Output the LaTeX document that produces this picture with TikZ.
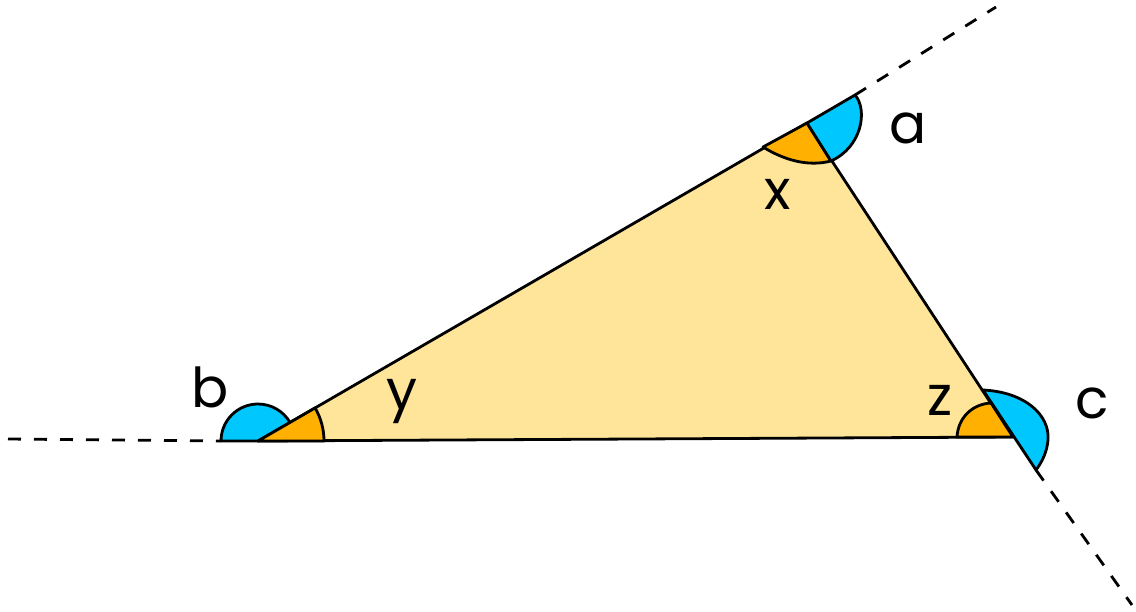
\documentclass[tikz,border=0pt]{standalone}
\usepackage{fontspec}
\setmainfont{Poppins}
\begin{document}
\begin{tikzpicture}[x=1pt,y=-1pt,
  edge/.style={line width=2.8pt,line join=round,line cap=round},
  wedgeorange/.style={fill=orangeW,draw=black,line width=2.8pt,line join=round},
  wedgeblue/.style={fill=blueW,draw=black,line width=2.8pt,line join=round},
  ext/.style={line width=2.8pt,dash pattern=on 13pt off 13pt},
  lab/.style={inner sep=0pt,font=\fontsize{55}{60}\selectfont}]
\definecolor{triY}{RGB}{255,229,153}
\definecolor{orangeW}{RGB}{255,176,0}
\definecolor{blueW}{RGB}{0,200,255}
\useasboundingbox[fill=white] (0,0) rectangle (1136,611);
% vertices
\coordinate (A) at (807,123);
\coordinate (B) at (258,441);
\coordinate (C) at (1013,437);
% triangle
\fill[triY] (A) -- (B) -- (C) -- cycle;
\draw[edge] (A) -- (B) -- (C) -- cycle;
% arc end points
\coordinate (aOut) at (855,95);
\coordinate (aIn) at (831,161);
\coordinate (aLeft) at (763,147);
\coordinate (cTop) at (983,390);
\coordinate (cBot) at (1036,470);
\coordinate (cRight) at (1048,440);
\coordinate (cMid) at (991,403);
\coordinate (cLeft) at (957,437);
\coordinate (bLeft) at (221,441);
% far ends of dashed lines
\coordinate (aFar) at (996,7);
\coordinate (bFar) at (8,439);
\coordinate (cFar) at (1132,605);
% wedges at A
\draw[wedgeorange] (A) -- (aLeft) .. controls (784,160) and (808,167) .. (aIn) -- cycle;
\draw[wedgeblue] (A) -- (aOut) .. controls (868,110) and (862,147) .. (aIn) -- cycle;
% wedges at B
\draw[wedgeblue] (B) -- (bLeft) arc[start angle=180,end angle=329.9,radius=37] -- cycle;
\draw[wedgeorange] (B) -- +(-30.1:66) arc[start angle=-30.1,end angle=0,radius=66] -- cycle;
% wedges at C
\draw[wedgeorange] (C) -- (cLeft) .. controls (958,418) and (972,404) .. (cMid) -- cycle;
\draw[wedgeblue] (cTop) .. controls (1025,392) and (1050,415) .. (cRight) .. controls (1047,452) and (1042,462) .. (cBot) -- cycle;
% dashed extensions
\draw[ext] (aOut) -- (aFar);
\draw[ext] (bFar) -- (bLeft);
\draw[ext] (cBot) -- (cFar);
% labels
\node[lab] (la) at (908,128) {a};
\node[lab] (lb) at (210,387) {b};
\node[lab] (lc) at (1092,403) {c};
\node[lab] (lx) at (778,194) {x};
\node[lab] (ly) at (402,402) {y};
\node[lab] (lz) at (940,400) {z};
\end{tikzpicture}
\end{document}
